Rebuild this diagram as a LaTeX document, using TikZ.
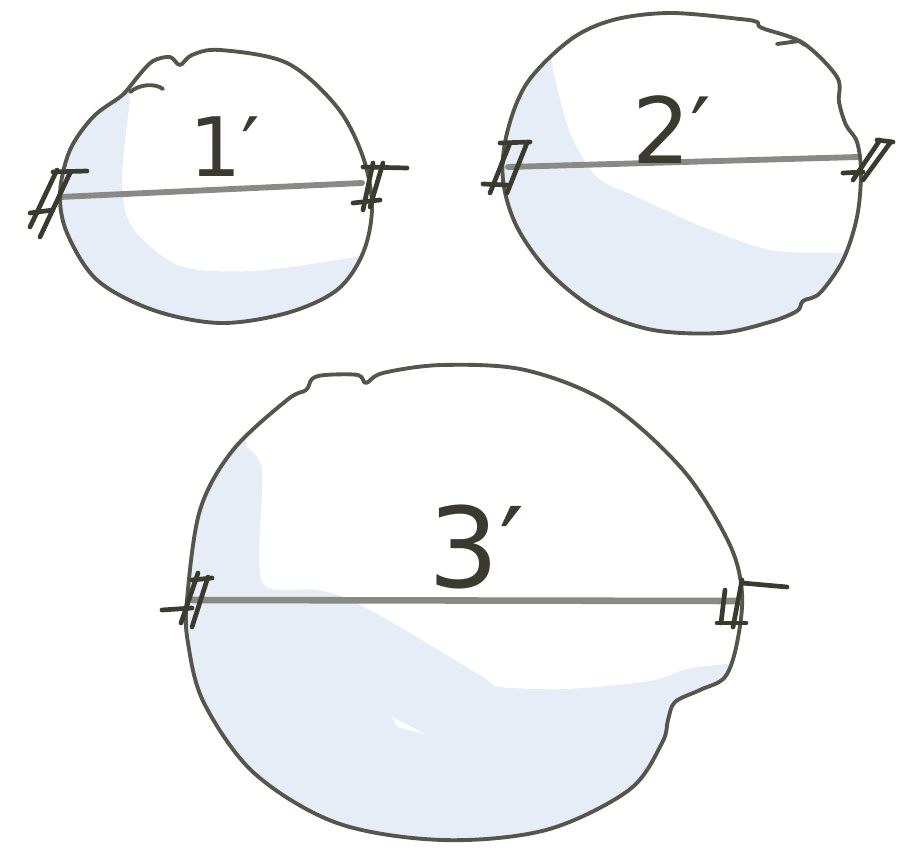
\documentclass[tikz,border=0pt]{standalone}
\usepackage{fontspec}
\newfontfamily\handfont{DejaVu Sans}
\definecolor{ink}{HTML}{55554B}
\definecolor{dark}{HTML}{3A3A2F}
\definecolor{rod}{HTML}{8A8A84}
\definecolor{wash}{HTML}{E6EDF7}
\tikzset{
  outline/.style={draw=ink,line width=3.3pt,line join=round},
  diam/.style={draw=rod,line width=5pt,line cap=round},
  hatch/.style={draw=dark,line width=4pt,line cap=round},
  lbl/.style={text=dark,inner sep=0pt}
}
\begin{document}
\begin{tikzpicture}[x=0.03cm,y=-0.03cm]
\useasboundingbox (0,0) rectangle (900,853);
\def\shapeA{plot[smooth cycle,tension=0.55] coordinates{(60,193) (70,150) (93,117) (120,97) (128,89) (140,74) (153,61) (170,57) (180,65) (192,55) (220,50) (287,63) (337,107) (363,157) (372,207) (363,253) (337,290) (287,313) (220,323) (153,310) (97,280) (67,233)}}
\def\shapeB{plot[smooth cycle,tension=0.55] coordinates{(613,20) (670,13) (740,19) (757,22) (762,28) (803,43) (837,77) (839,102) (846,125) (857,142) (861,173) (857,217) (843,260) (820,293) (803,301) (797,311) (770,322) (720,333) (653,330) (597,310) (550,273) (517,227) (503,180) (507,133) (527,83) (570,40)}}
\def\shapeC{plot[smooth cycle,tension=0.55] coordinates{(187,600) (200,510) (233,450) (287,400) (306,390) (312,379) (325,375) (358,375) (366,383) (383,373) (442,365) (525,370) (608,403) (683,470) (729,543) (742,593) (737,643) (725,677) (700,690) (675,702) (668,720) (662,743) (629,790) (546,830) (442,840) (337,823) (254,773) (204,703) (188,643)}}
% washes
\begin{scope}
  \clip \shapeA;
  \fill[wash] (115,40) -- plot[smooth] coordinates{(130,100) (122,180) (132,227) (180,266) (253,271) (337,260) (390,250)} -- (400,400) -- (0,400) -- (0,40) -- cycle;
\end{scope}
\begin{scope}
  \clip \shapeB;
  \fill[wash] (545,0) -- plot[smooth] coordinates{(553,70) (570,133) (597,177) (637,197) (703,227) (770,250) (837,253) (890,256)} -- (900,400) -- (450,400) -- (450,0) -- cycle;
\end{scope}
\begin{scope}
  \clip \shapeC;
  \fill[wash] (245,360) -- plot[smooth] coordinates{(246,447) (262,470) (259,560) (268,588) (317,590) (350,600) (400,627) (483,677) (500,687) (567,689) (650,681) (692,668) (770,660)} -- (800,860) -- (150,860) -- (150,360) -- cycle;
  \fill[white] (392,717) -- (425,734) -- (397,727) -- cycle;
\end{scope}
% diameters
\coordinate (d1a) at (60,197); \coordinate (d1b) at (362,183);
\coordinate (d2a) at (508,167); \coordinate (d2b) at (858,157);
\coordinate (d3a) at (192,600); \coordinate (d3b) at (735,601);
\draw[diam] (d1a) -- (d1b);
\draw[diam] (d2a) -- (d2b);
\draw[diam,line width=5.6pt] (d3a) -- (d3b);
% outlines
\draw[outline] \shapeA;
\draw[outline] \shapeB;
\draw[outline] \shapeC;
\draw[outline,line cap=round] (130,92) .. controls (140,84) and (155,83) .. (163,89);
\draw[outline,line cap=round] (777,44) -- (799,41) -- (805,45);
% hatch marks
\draw[hatch] (57,170) -- (30,227);
\draw[hatch] (70,173) -- (40,237);
\draw[hatch] (53,172) -- (87,171);
\draw[hatch] (30,213) -- (53,210);
\draw[hatch] (373,163) -- (363,210);
\draw[hatch] (383,163) -- (370,207);
\draw[hatch] (363,167) -- (407,168);
\draw[hatch] (353,203) -- (380,200);
\draw[hatch] (500,143) -- (530,142);
\draw[hatch] (527,143) -- (507,193);
\draw[hatch] (510,143) -- (490,193);
\draw[hatch] (483,184) -- (507,185);
\draw[hatch] (880,140) -- (853,180);
\draw[hatch] (890,143) -- (863,180);
\draw[hatch] (877,140) -- (893,142);
\draw[hatch] (843,173) -- (863,172);
\draw[hatch] (208,577) -- (192,627);
\draw[hatch] (198,573) -- (181,623);
\draw[hatch] (162,610) -- (192,608);
\draw[hatch] (192,580) -- (212,578);
\draw[hatch] (725,590) -- (721,623);
\draw[hatch] (742,580) -- (733,627);
\draw[hatch] (742,583) -- (787,587);
\draw[hatch] (717,623) -- (746,623);
% labels
\node[lbl,font=\handfont\fontsize{70}{70}\selectfont] (l1) at (225,147) {1′};
\node[lbl,font=\handfont\fontsize{78}{78}\selectfont] (l2) at (672,130) {2′};
\node[lbl,font=\handfont\fontsize{95}{95}\selectfont] (l3) at (477,547) {3′};
\end{tikzpicture}
\end{document}
